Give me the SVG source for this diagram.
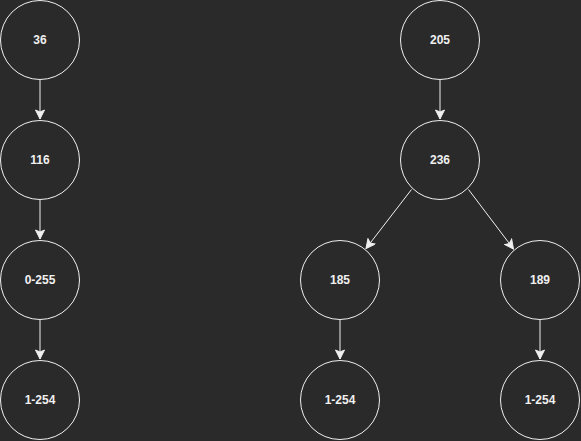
<svg xmlns="http://www.w3.org/2000/svg" width="581" height="441" viewBox="0 0 581 441">
  <style>
    .node circle { fill: #2a2a2a; stroke: #f0f0f0; stroke-width: 1; }
    .node text { fill: #f0f0f0; font-family: "Liberation Sans", Arial, sans-serif; font-size: 12px; font-weight: bold; text-anchor: middle; dominant-baseline: central; }
    .edge { stroke: #f0f0f0; stroke-width: 1; fill: none; marker-end: url(#arrow); }
  </style>
  <defs>
    <marker id="arrow" viewBox="-10 -5 11 10" refX="0" refY="0" markerWidth="11" markerHeight="10" markerUnits="userSpaceOnUse" orient="auto">
      <path d="M0,0 L-9,-4.5 L-7,0 L-9,4.5 Z" fill="#f0f0f0" stroke="#f0f0f0" stroke-width="1" stroke-linejoin="miter"/>
    </marker>
  </defs>
  <rect width="581" height="441" fill="#2a2a2a"/>

  <g id="connectors">
    <line class="edge" x1="40" y1="80" x2="40" y2="119"/>
    <line class="edge" x1="40" y1="200" x2="40" y2="239"/>
    <line class="edge" x1="40" y1="320" x2="40" y2="359"/>
    <line class="edge" x1="440" y1="80" x2="440" y2="119"/>
    <line class="edge" x1="411.5" y1="189.5" x2="366" y2="248.5"/>
    <line class="edge" x1="468.5" y1="189.5" x2="513.5" y2="249"/>
    <line class="edge" x1="340" y1="320" x2="340" y2="359"/>
    <line class="edge" x1="540" y1="320" x2="540" y2="359"/>
  </g>

  <g id="n36" class="node"><circle cx="40" cy="40" r="39.5"/><text x="40" y="40">36</text></g>
  <g id="n116" class="node"><circle cx="40" cy="160" r="39.5"/><text x="40" y="160">116</text></g>
  <g id="n0-255" class="node"><circle cx="40" cy="280" r="39.5"/><text x="40" y="280">0-255</text></g>
  <g id="n1-254-left" class="node"><circle cx="40" cy="400" r="39.5"/><text x="40" y="400">1-254</text></g>

  <g id="n205" class="node"><circle cx="440" cy="40" r="39.5"/><text x="440" y="40">205</text></g>
  <g id="n236" class="node"><circle cx="440" cy="160" r="39.5"/><text x="440" y="160">236</text></g>
  <g id="n185" class="node"><circle cx="340" cy="280" r="39.5"/><text x="340" y="280">185</text></g>
  <g id="n189" class="node"><circle cx="540" cy="280" r="39.5"/><text x="540" y="280">189</text></g>
  <g id="n1-254-mid" class="node"><circle cx="340" cy="400" r="39.5"/><text x="340" y="400">1-254</text></g>
  <g id="n1-254-right" class="node"><circle cx="540" cy="400" r="39.5"/><text x="540" y="400">1-254</text></g>
</svg>
